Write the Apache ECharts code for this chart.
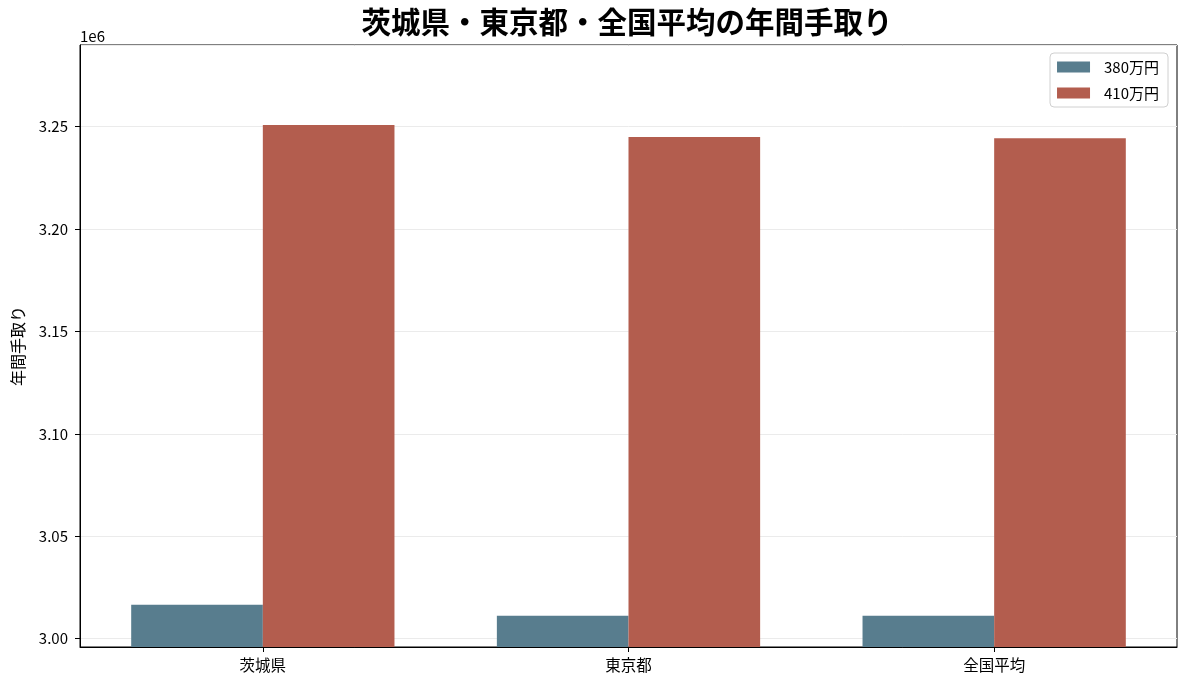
<!DOCTYPE html>
<html>
<head>
<meta charset="utf-8">
<script src="https://cdn.jsdelivr.net/npm/echarts@6/dist/echarts.min.js"></script>
<style>
  html, body { margin: 0; padding: 0; background: #fff; }
  #main { width: 1188px; height: 688px; }
</style>
</head>
<body>
<div id="main"></div>
<script>
var categories = ['茨城県', '東京都', '全国平均'];
var seriesNames = ['380万円', '410万円'];
var income380 = [3016600, 3011200, 3011200];
var income410 = [3250800, 3245000, 3244300];

var FONT = 'Noto Sans CJK JP';

var option = {
    backgroundColor: '#fff',
    animation: false,
    textStyle: {fontFamily: FONT},
    color: ['#587D8E', '#B35D4E'],
    graphic: [
        {
            type: 'text',
            x: 627,
            y: 22,
            style: {
                text: '茨城県・東京都・全国平均の年間手取り',
                font: 'bold 29.5px "Noto Sans CJK JP"',
                fill: '#000',
                textAlign: 'center',
                textVerticalAlign: 'middle'
            }
        },
        {
            type: 'text',
            x: 80,
            y: 36,
            style: {
                text: '1e6',
                font: '15px "Noto Sans CJK JP"',
                fill: '#000',
                textAlign: 'left',
                textVerticalAlign: 'middle'
            }
        }
    ],
    legend: {
        right: 20,
        top: 53,
        orient: 'vertical',
        icon: 'rect',
        itemWidth: 33,
        itemHeight: 11,
        itemGap: 8,
        padding: [5, 9, 5, 7],
        borderColor: '#d0d0d0',
        borderWidth: 1,
        borderRadius: 4,
        backgroundColor: '#fff',
        textStyle: {
            fontFamily: FONT,
            fontSize: 15,
            color: '#000',
            lineHeight: 18,
            padding: [0, 0, 0, 9]
        },
        data: seriesNames
    },
    grid: {
        left: 80,
        right: 11,
        top: 45,
        bottom: 41,
        containLabel: false,
        outerBoundsMode: 'none',
        show: true,
        borderColor: '#000',
        borderWidth: 1
    },
    xAxis: {
        type: 'category',
        data: categories,
        axisLine: {lineStyle: {color: '#000', width: 1}},
        axisTick: {show: true, alignWithLabel: true, length: 5, lineStyle: {color: '#000'}},
        axisLabel: {color: '#000', fontSize: 15.5, fontFamily: FONT, margin: 10}
    },
    yAxis: {
        type: 'value',
        min: 2995950,
        max: 3289870,
        minInterval: 50000,
        maxInterval: 50000,
        splitNumber: 6,
        name: '年間手取り',
        nameLocation: 'middle',
        nameGap: 54,
        nameRotate: 90,
        nameTextStyle: {color: '#000', fontSize: 16, fontFamily: FONT},
        axisLine: {show: true, lineStyle: {color: '#000', width: 1}},
        axisTick: {show: true, length: 5, lineStyle: {color: '#000'}},
        axisLabel: {
            color: '#000',
            fontSize: 15,
            fontFamily: FONT,
            margin: 12,
            showMinLabel: false,
            showMaxLabel: false,
            formatter: function (v) {
                return (v / 1e6).toFixed(2);
            }
        },
        splitLine: {show: true, lineStyle: {color: '#ebebeb', width: 1}}
    },
    series: [
        {
            name: seriesNames[0],
            type: 'bar',
            barGap: '0%',
            barCategoryGap: '28%',
            data: income380
        },
        {
            name: seriesNames[1],
            type: 'bar',
            barGap: '0%',
            barCategoryGap: '28%',
            data: income410
        }
    ]
};

var chart = echarts.init(document.getElementById('main'));
chart.setOption(option);
</script>
</body>
</html>
